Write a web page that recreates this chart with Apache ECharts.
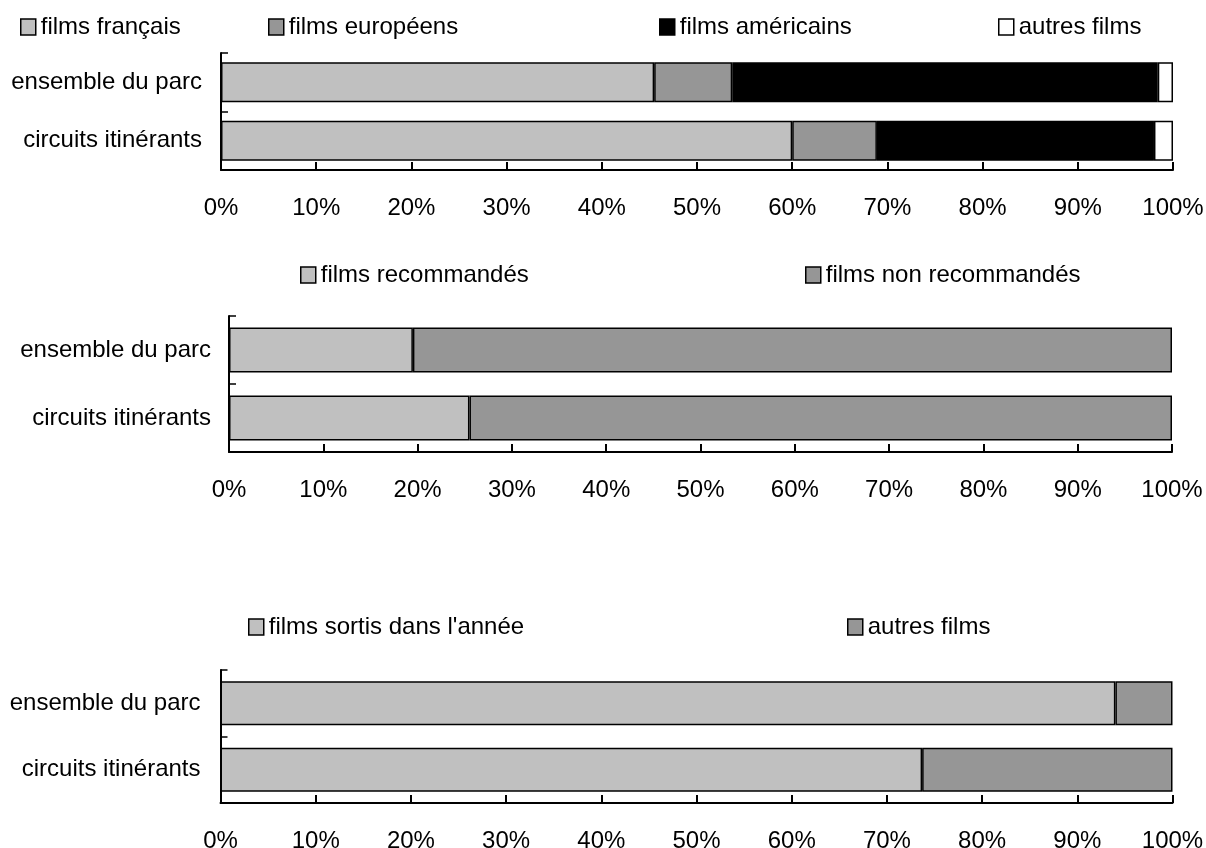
<!DOCTYPE html>
<html>
<head>
<meta charset="utf-8">
<script src="https://cdn.jsdelivr.net/npm/echarts@6/dist/echarts.min.js"></script>
<style>
html,body{margin:0;padding:0;background:#fff;}
#chart{width:1206px;height:848px;}
</style>
</head>
<body>
<div id="chart"></div>
<script>
// ---- data ----
var categories = ['ensemble du parc', 'circuits itinérants'];

// chart 1 : origine des films
var francais   = [45.5, 60.0];
var europeens  = [8.2, 8.9];
var americains = [44.7, 29.1];
var autresOrigine = [1.6, 2.0];

// chart 2 : recommandation
var recommandes    = [19.5, 25.5];
var nonRecommandes = [80.5, 74.5];

// chart 3 : année de sortie
var sortisAnnee      = [94.0, 73.7];
var autresAnciennete = [6.0, 26.3];

var xMin = 0, xMax = 100, xStep = 10;

// ---- styles ----
var FONT = 'Liberation Sans';
var C_LIGHT = '#c0c0c0', C_MID = '#969696', C_BLACK = '#000000', C_WHITE = '#ffffff';

function xAxis(i) {
  return {
    type: 'value', gridIndex: i, min: xMin, max: xMax, interval: xStep,
    axisLine: {show: true, lineStyle: {color: '#000', width: 2}},
    axisTick: {show: true, inside: true, length: 8, lineStyle: {color: '#000', width: 2}},
    splitLine: {show: false},
    axisLabel: {formatter: '{value}%', color: '#000', fontSize: 24, fontFamily: FONT, margin: 26}
  };
}
function yAxis(i, margin) {
  return {
    type: 'category', gridIndex: i, data: categories, inverse: true,
    axisLine: {show: true, lineStyle: {color: '#000', width: 2}},
    axisTick: {show: true, inside: true, length: 7, lineStyle: {color: '#000', width: 1.5}},
    axisLabel: {color: '#000', fontSize: 24, fontFamily: FONT, margin: margin}
  };
}
function bar(name, data, color, gi, stack, bw) {
  return {
    type: 'bar', name: name, data: data, stack: stack,
    xAxisIndex: gi, yAxisIndex: gi, barWidth: bw,
    itemStyle: {color: color, borderColor: '#000', borderWidth: 1.5},
    emphasis: {disabled: true}, animation: false
  };
}
function legend(name, left, top, color) {
  return {
    data: [{name: name, itemStyle: {color: color, borderColor: '#000', borderWidth: 1.5}}],
    left: left, top: top, padding: 0, itemWidth: 15, itemHeight: 16,
    icon: 'rect', selectedMode: false,
    textStyle: {color: '#000', fontSize: 24, fontFamily: FONT}
  };
}

var option = {
  backgroundColor: '#fff',
  animation: false,
  grid: [
    {left: 221, right: 33, top: 53, height: 117, outerBoundsMode: 'none'},
    {left: 229, right: 34, top: 316, height: 136, outerBoundsMode: 'none'},
    {left: 220.5, right: 33.5, top: 670, height: 133, outerBoundsMode: 'none'}
  ],
  xAxis: [xAxis(0), xAxis(1), xAxis(2)],
  yAxis: [yAxis(0, 19), yAxis(1, 18), yAxis(2, 20)],
  legend: [
    legend('films français', 20, 15, C_LIGHT),
    legend('films européens', 268, 15, C_MID),
    legend('films américains', 659, 15, C_BLACK),
    legend('autres films', 998, 15, C_WHITE),
    legend('films recommandés', 300, 263, C_LIGHT),
    legend('films non recommandés', 805, 263, C_MID),
    legend('films sortis dans l\'année', 248, 615, C_LIGHT),
    legend('autres films', 847, 615, C_MID)
  ],
  series: [
    bar('films français', francais, C_LIGHT, 0, 'a', 40),
    bar('films européens', europeens, C_MID, 0, 'a', 40),
    bar('films américains', americains, C_BLACK, 0, 'a', 40),
    bar('autres films', autresOrigine, C_WHITE, 0, 'a', 40),
    bar('films recommandés', recommandes, C_LIGHT, 1, 'b', 45),
    bar('films non recommandés', nonRecommandes, C_MID, 1, 'b', 45),
    bar('films sortis dans l\'année', sortisAnnee, C_LIGHT, 2, 'c', 44),
    bar('autres films', autresAnciennete, C_MID, 2, 'c', 44)
  ]
};

var chart = echarts.init(document.getElementById('chart'));
chart.setOption(option);
</script>
</body>
</html>
